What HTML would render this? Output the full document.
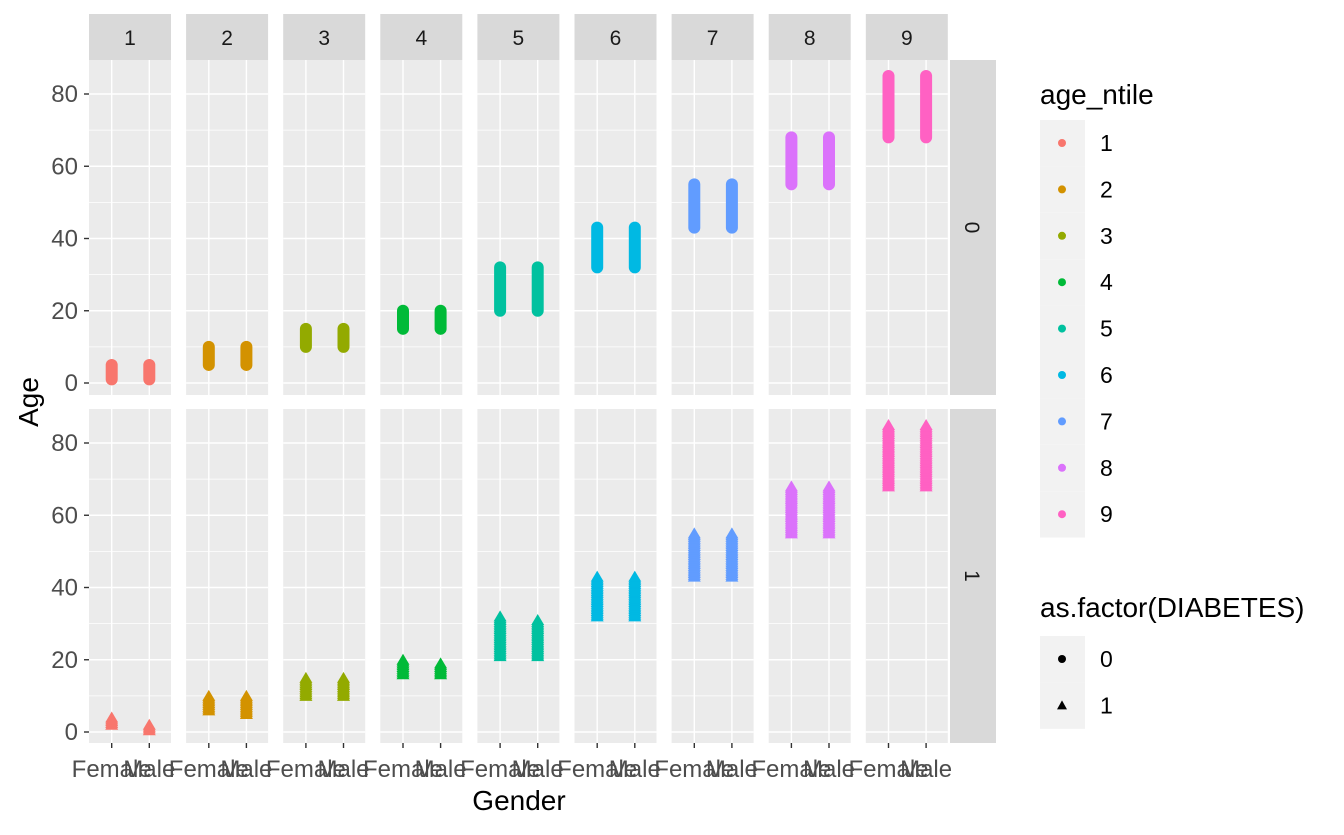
<!DOCTYPE html>
<html><head><meta charset="utf-8"><style>
body{margin:0;background:#fff}
svg text{font-family:"Liberation Sans",sans-serif}
</style></head><body>
<svg id="c" width="1344" height="830" xmlns="http://www.w3.org/2000/svg"></svg>
<script>
const ntiles=["1","2","3","4","5","6","7","8","9"];
const genders=["Female","Male"];
const colors=["#F8766D","#D39200","#93AA00","#00BA38","#00C19F","#00B9E3","#619CFF","#DB72FB","#FF61C3"];
// diabetes 0: [Female min,max],[Male min,max]
const d0Min=[[1,1],[5,5],[10,10],[15,15],[20,20],[32,32],[43,43],[55,55],[68,68]];
const d0Max=[[5,5],[10,10],[15,15],[20,20],[32,32],[43,43],[55,55],[68,68],[85,85]];
const d1Min=[[2,0.5],[6,5],[10,10],[16,16],[21,21],[32,32],[43,43],[55,55],[68,68]];
const d1Max=[[4,2],[10,10],[15,15],[20,19],[32,31],[43,43],[55,55],[68,68],[85,85]];
const yTicks=[0,20,40,60,80];
const yMinor=[10,30,50,70];

const svg=document.getElementById('c');
const NS="http://www.w3.org/2000/svg";
function mk(t,a,p){const e=document.createElementNS(NS,t);for(const k in a)e.setAttribute(k,a[k]);(p||svg).appendChild(e);return e;}
const px0=89,pw=82,pstep=97.1;
const rows=[{top:60,bot:395,y0:383,y80:94},{top:409,bot:743,y0:732,y80:443}];
function yS(r,v){return rows[r].y0+(rows[r].y80-rows[r].y0)*v/80;}
function xS(c,g){return px0+c*pstep+(g===0?22.7:60.3);}

for(let c=0;c<9;c++){
  const x=px0+c*pstep;
  const s=mk('rect',{x:x,y:14,width:pw,height:46,fill:'#D9D9D9'});
  
  
  const st=mk('text',{x:x+pw/2,y:45,'text-anchor':'middle','font-size':21,fill:'#1A1A1A'});
  st.textContent=ntiles[c];
  
  
  for(let r=0;r<2;r++){
    const R=rows[r];
    const p=mk('rect',{x:x,y:R.top,width:pw,height:R.bot-R.top,fill:'#EBEBEB'});
    
    
    yMinor.forEach(v=>mk('line',{x1:x,x2:x+pw,y1:yS(r,v),y2:yS(r,v),stroke:'#fff','stroke-width':0.7}));
    yTicks.forEach(v=>mk('line',{x1:x,x2:x+pw,y1:yS(r,v),y2:yS(r,v),stroke:'#fff','stroke-width':1.4}));
    [0,1].forEach(g=>mk('line',{x1:xS(c,g),x2:xS(c,g),y1:R.top,y2:R.bot,stroke:'#fff','stroke-width':1.4}));
    const mins=r===0?d0Min:d1Min, maxs=r===0?d0Max:d1Max;
    for(let g=0;g<2;g++){
      const cx=xS(c,g),lo=mins[c][g],hi=maxs[c][g];
      if(r===0){
        const m=mk('line',{x1:cx,x2:cx,y1:yS(r,lo),y2:yS(r,hi),stroke:colors[c],'stroke-width':12,'stroke-linecap':'round'});
        
        
      } else {
        const grp=mk('g',{fill:colors[c]});
        
        
        for(let v=lo;v<=hi+1e-6;v+=0.5){
          const y=yS(r,v);
          mk('polygon',{points:`${cx},${y-6} ${cx-6.5},${y+5} ${cx+6.5},${y+5}`},grp);
        }
      }
    }
  }
  [0,1].forEach(g=>{
    mk('line',{x1:xS(c,g),x2:xS(c,g),y1:743,y2:748,stroke:'#333','stroke-width':1.4});
    const t=mk('text',{x:xS(c,g),y:777,'text-anchor':'middle','font-size':24,fill:'#4D4D4D'});
    t.textContent=genders[g];
    
    
  });
}
for(let r=0;r<2;r++){
  const R=rows[r];
  const s=mk('rect',{x:950,y:R.top,width:46,height:R.bot-R.top,fill:'#D9D9D9'});
  
  
  const t=mk('text',{x:0,y:0,'text-anchor':'middle','font-size':21,fill:'#1A1A1A',transform:`translate(965,${(R.top+R.bot)/2}) rotate(90)`});
  t.textContent=String(r);
  yTicks.forEach(v=>{
    mk('line',{x1:84,x2:89,y1:yS(r,v),y2:yS(r,v),stroke:'#333','stroke-width':1.4});
    const l=mk('text',{x:78,y:yS(r,v)+8,'text-anchor':'end','font-size':24,fill:'#4D4D4D'});
    l.textContent=v;
    
    
  });
}
const ya=mk('text',{x:0,y:0,'text-anchor':'middle','font-size':28,fill:'#000',transform:'translate(38,402) rotate(-90)'});
ya.textContent='Age';
const xa=mk('text',{x:519,y:810,'text-anchor':'middle','font-size':28,fill:'#000'});
xa.textContent='Gender';

const lt=mk('text',{x:1040,y:104,'font-size':28,fill:'#000'});
lt.textContent='age_ntile';
for(let i=0;i<9;i++){
  const y=120+i*46.4;
  const k=mk('rect',{x:1040,y:y,width:45,height:46.4,fill:'#F2F2F2'});
  
  
  mk('circle',{cx:1062,cy:y+23,r:4,fill:colors[i]});
  const t=mk('text',{x:1100,y:y+31,'font-size':23,fill:'#000'});t.textContent=ntiles[i];
}
const lt2=mk('text',{x:1040,y:617,'font-size':28,fill:'#000'});
lt2.textContent='as.factor(DIABETES)';
["0","1"].forEach((v,i)=>{
  const y=636+i*46.4;
  const k=mk('rect',{x:1040,y:y,width:45,height:46.4,fill:'#F2F2F2'});
  
  
  if(i===0)mk('circle',{cx:1062,cy:y+23,r:4,fill:'#000'});
  else mk('polygon',{points:`1062,${y+18} 1057,${y+27} 1067,${y+27}`,fill:'#000'});
  const t=mk('text',{x:1100,y:y+31,'font-size':23,fill:'#000'});t.textContent=v;
});
</script>
</body></html>
